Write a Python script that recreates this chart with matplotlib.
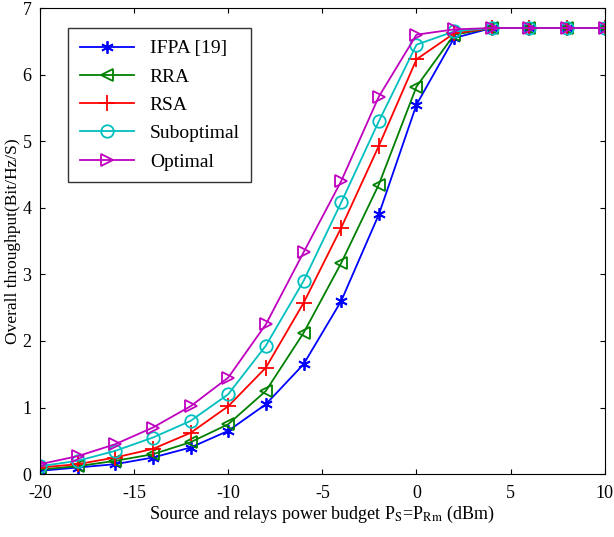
import matplotlib.pyplot as plt

plt.rcParams['font.family'] = ['Liberation Serif', 'DejaVu Serif']
plt.rcParams['mathtext.fontset'] = 'stix'
plt.rcParams['axes.unicode_minus'] = False  # 刻度用普通连字符

# 数据
x = [-20, -18, -16, -14, -12, -10, -8, -6, -4, -2, 0, 2, 4, 6, 8, 10]
ifpa = [0.05, 0.10, 0.15, 0.25, 0.40, 0.65, 1.05, 1.65, 2.60, 3.90, 5.55, 6.55, 6.70, 6.70, 6.70, 6.70]
rra = [0.07, 0.12, 0.20, 0.30, 0.48, 0.75, 1.25, 2.12, 3.17, 4.35, 5.82, 6.60, 6.70, 6.70, 6.70, 6.70]
rsa = [0.10, 0.15, 0.25, 0.38, 0.62, 1.02, 1.60, 2.57, 3.70, 4.93, 6.23, 6.62, 6.70, 6.70, 6.70, 6.70]
subopt = [0.12, 0.20, 0.35, 0.55, 0.80, 1.20, 1.93, 2.90, 4.08, 5.30, 6.45, 6.65, 6.70, 6.70, 6.70, 6.70]
opt = [0.15, 0.27, 0.45, 0.70, 1.02, 1.45, 2.25, 3.33, 4.40, 5.67, 6.60, 6.68, 6.70, 6.70, 6.70, 6.70]

fig = plt.figure(figsize=(6.14, 5.37), dpi=100)
ax = fig.add_axes([0.065, 0.117, 0.92, 0.868])

ax.plot(x, ifpa, color='blue', marker=(6, 2, 0), markersize=9, mew=1.3, lw=1.3, label='IFPA [19]')
ax.plot(x, rra, color='green', marker='<', markersize=9, mfc='none', mew=1.3, lw=1.3, label='RRA')
ax.plot(x, rsa, color='red', marker='+', markersize=11, mew=1.3, lw=1.3, label='RSA')
ax.plot(x, subopt, color='c', marker='o', markersize=9, mfc='none', mew=1.3, lw=1.3, label='Suboptimal')
ax.plot(x, opt, color='m', marker='>', markersize=9, mfc='none', mew=1.3, lw=1.3, label='Optimal')

ax.set_xlim(-20, 10)
ax.set_ylim(0, 7)
ax.set_xticks(range(-20, 11, 5))
ax.set_yticks(range(0, 8))
ax.tick_params(direction='in', top=True, right=True, labelsize=13)
ax.tick_params(axis='x', pad=8)
ax.tick_params(axis='y', pad=6)
ax.set_xlabel(r'Source and relays power budget P$_\mathrm{S}$=P$_\mathrm{Rm}$ (dBm)', fontsize=13, labelpad=1)
ax.set_ylabel('Overall throughput(Bit/Hz/S)', fontsize=12.5, labelpad=1)

leg = ax.legend(loc='upper left', fontsize=14, fancybox=False, edgecolor='black',
                bbox_to_anchor=(0.05, 0.957), borderaxespad=0, handlelength=2.8,
                labelspacing=0.55, borderpad=0.6)
leg.get_frame().set_linewidth(1.0)

plt.savefig('out.png', dpi=100)
